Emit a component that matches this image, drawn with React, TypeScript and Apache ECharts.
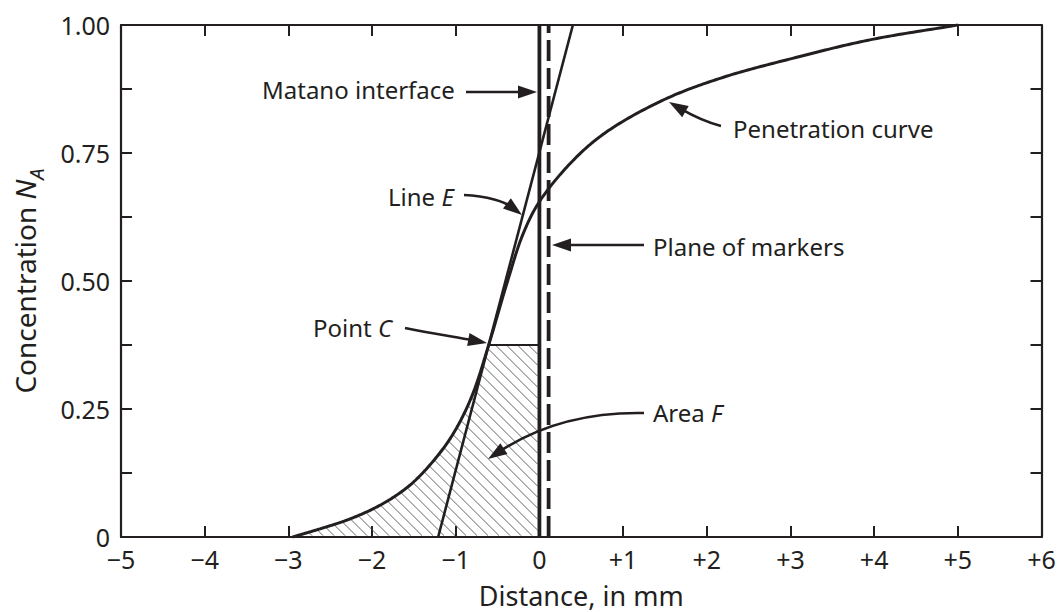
import React, { useEffect, useRef } from "react";
import * as echarts from "echarts";

// ---- data ----
const xMin = -5;
const xMax = 6;
const yMin = 0;
const yMax = 1;
const penetrationX = [-2.95, -2.62, -2.3, -2.0, -1.75, -1.5, -1.2, -1.0, -0.8, -0.606, -0.38, -0.2, 0, 0.4, 0.8, 1.5, 2.2, 3.1, 3.95, 5.0];
const penetrationY = [0, 0.016, 0.033, 0.054, 0.077, 0.108, 0.162, 0.21, 0.278, 0.375, 0.5, 0.59, 0.655, 0.735, 0.791, 0.855, 0.898, 0.938, 0.971, 1.0];
const lineEX = [-1.21, 0.4];
const lineEY = [0, 1];
const matanoX = 0;
const markersX = 0.11;
const pointCX = -0.606;
const pointCY = 0.375;
const yLabelValues = [0, 0.25, 0.5, 0.75, 1];
const yLabelTexts = ["0", "0.25", "0.50", "0.75", "1.00"];

const INK = "#231f20";
const FONT = '"Noto Sans", "Open Sans", sans-serif';
const ANN = 24;

function xLabel(v: number): string {
  if (Math.abs(v) < 1e-9) return "0";
  return v < 0 ? "\u2212" + Math.abs(v) : "+" + v;
}
function yLabel(v: number): string {
  for (let i = 0; i < yLabelValues.length; i++) {
    if (Math.abs(v - yLabelValues[i]) < 1e-6) return yLabelTexts[i];
  }
  return "";
}

// centripetal Catmull-Rom through pixel points, sampled into a dense polyline
function smoothPolyline(P: number[][], perSeg = 24): number[][] {
  const n = P.length;
  const get = (i: number) => {
    if (i < 0) return [2 * P[0][0] - P[1][0], 2 * P[0][1] - P[1][1]];
    if (i >= n) return [2 * P[n - 1][0] - P[n - 2][0], 2 * P[n - 1][1] - P[n - 2][1]];
    return P[i];
  };
  const out: number[][] = [P[0]];
  for (let i = 0; i < n - 1; i++) {
    const p0 = get(i - 1), p1 = get(i), p2 = get(i + 1), p3 = get(i + 2);
    const d1 = Math.pow(Math.hypot(p1[0] - p0[0], p1[1] - p0[1]), 0.5) || 1e-6;
    const d2 = Math.pow(Math.hypot(p2[0] - p1[0], p2[1] - p1[1]), 0.5) || 1e-6;
    const d3 = Math.pow(Math.hypot(p3[0] - p2[0], p3[1] - p2[1]), 0.5) || 1e-6;
    const b1 = [0, 1].map(
      (k) => (d1 * d1 * p2[k] - d2 * d2 * p0[k] + (2 * d1 * d1 + 3 * d1 * d2 + d2 * d2) * p1[k]) / (3 * d1 * (d1 + d2))
    );
    const b2 = [0, 1].map(
      (k) => (d3 * d3 * p1[k] - d2 * d2 * p3[k] + (2 * d3 * d3 + 3 * d3 * d2 + d2 * d2) * p2[k]) / (3 * d3 * (d3 + d2))
    );
    for (let s = 1; s <= perSeg; s++) {
      const t = s / perSeg;
      const u = 1 - t;
      out.push([0, 1].map((k) => u * u * u * p1[k] + 3 * u * u * t * b1[k] + 3 * u * t * t * b2[k] + t * t * t * p2[k]));
    }
  }
  return out;
}

function arrow(p0: number[], c1: number[], c2: number[], p1: number[], w = 2.6): any[] {
  const dx = p1[0] - c2[0];
  const dy = p1[1] - c2[1];
  const L = Math.hypot(dx, dy) || 1;
  const ux = dx / L;
  const uy = dy / L;
  const hl = 19;
  const hw = 6.5;
  const base = [p1[0] - ux * hl, p1[1] - uy * hl];
  const end = [p1[0] - ux * hl * 0.75, p1[1] - uy * hl * 0.75];
  return [
    {
      type: "bezierCurve",
      shape: { x1: p0[0], y1: p0[1], cpx1: c1[0], cpy1: c1[1], cpx2: c2[0], cpy2: c2[1], x2: end[0], y2: end[1] },
      style: { stroke: INK, lineWidth: w, fill: "none" },
      z: 100,
    },
    {
      type: "polygon",
      shape: {
        points: [
          [p1[0], p1[1]],
          [base[0] - uy * hw, base[1] + ux * hw],
          [base[0] + uy * hw, base[1] - ux * hw],
        ],
      },
      style: { fill: INK, stroke: "none" },
      z: 100,
    },
  ];
}

function label(x: number, y: number, text: string, rich?: any): any {
  return {
    type: "text",
    z: 100,
    style: {
      x,
      y,
      text,
      font: `${ANN}px ${FONT}`,
      fill: INK,
      textVerticalAlign: "middle",
      textAlign: "left",
      rich,
    },
  };
}

export default function App() {
  const ref = useRef<HTMLDivElement>(null);
  useEffect(() => {
    if (!ref.current) return;
    const chart = echarts.init(ref.current, null, { renderer: "svg" });
    const curve = penetrationX.map((x, i) => [x, penetrationY[i]]);

    const richItalic = {
      n: { fontSize: ANN, fontFamily: FONT, color: INK },
      i: { fontSize: ANN, fontFamily: FONT, color: INK, fontStyle: "italic" },
    };

    const axisBase = {
      axisLine: { show: true, onZero: false, lineStyle: { color: INK, width: 2.2 } },
      axisTick: { show: true, inside: true, length: 11, lineStyle: { color: INK, width: 2 } },
      splitLine: { show: false },
    };

    const option: any = {
      animation: false,
      backgroundColor: "#ffffff",
      grid: { left: 121, right: 21.5, top: 25, bottom: 75, containLabel: false, outerBoundsMode: "none" },
      xAxis: [
        {
          type: "value",
          min: xMin,
          max: xMax,
          interval: 1,
          position: "bottom",
          name: "Distance, in mm",
          nameLocation: "middle",
          nameGap: 46,
          nameTextStyle: { fontSize: 27, lineHeight: 24, fontFamily: FONT, color: INK },
          ...axisBase,
          axisLabel: { fontSize: 25, lineHeight: 20, fontFamily: FONT, color: INK, margin: 12, formatter: xLabel },
        },
        {
          type: "value",
          min: xMin,
          max: xMax,
          interval: 1,
          position: "top",
          ...axisBase,
          axisLabel: { show: false },
        },
      ],
      yAxis: [
        {
          type: "value",
          min: yMin,
          max: yMax,
          interval: 0.125,
          position: "left",
          name: "{a|Concentration }{b|N}{c|A}",
          nameLocation: "middle",
          nameGap: 82,
          nameTextStyle: {
            rich: {
              a: { fontSize: 28, fontFamily: FONT, color: INK, lineHeight: 32, verticalAlign: "bottom" },
              b: { fontSize: 28, fontFamily: FONT, color: INK, fontStyle: "italic", lineHeight: 32, verticalAlign: "bottom" },
              c: { fontSize: 20, fontFamily: FONT, color: INK, fontStyle: "italic", lineHeight: 32, verticalAlign: "bottom", padding: [0, 0, -7, 0] },
            },
          },
          ...axisBase,
          axisLabel: { fontSize: 25, lineHeight: 20, fontFamily: FONT, color: INK, margin: 11, formatter: yLabel },
        },
        {
          type: "value",
          min: yMin,
          max: yMax,
          interval: 0.125,
          position: "right",
          ...axisBase,
          axisLabel: { show: false },
        },
      ],
      series: [
        {
          type: "custom",
          name: "Penetration curve",
          coordinateSystem: "cartesian2d",
          data: [[penetrationX[0], penetrationY[0]]],
          z: 5,
          silent: true,
          renderItem: (params: any, api: any) => {
            const pix = curve.map((p) => api.coord(p));
            const dense = smoothPolyline(pix);
            const b0 = api.coord([matanoX, 0]);
            const top = api.coord([matanoX, pointCY]);
            const x0 = b0[0];
            const yb = b0[1];
            const yt = top[1];
            const startX = dense[0][0];
            const curveYAt = (px: number) => {
              if (px <= dense[0][0]) return yb;
              for (let i = 1; i < dense.length; i++) {
                if (px <= dense[i][0]) {
                  const t = (px - dense[i - 1][0]) / (dense[i][0] - dense[i - 1][0] || 1e-9);
                  return dense[i - 1][1] + t * (dense[i][1] - dense[i - 1][1]);
                }
              }
              return yt;
            };
            const inside = (px: number, py: number) =>
              px >= startX && px <= x0 - 1.5 && py <= yb - 1 && py >= yt && py >= curveYAt(px);
            const children: any[] = [];
            const spacing = 11;
            const push = (a: number[], b: number[]) =>
              children.push({ type: "line", shape: { x1: a[0], y1: a[1], x2: b[0], y2: b[1] }, style: { stroke: "#555555", lineWidth: 0.9 } });
            for (let c = yt - x0; c <= yb - startX; c += spacing) {
              let segStart: number[] | null = null;
              let last: number[] | null = null;
              for (let px = startX; px <= x0; px += 0.5) {
                const py = px + c;
                if (inside(px, py)) {
                  if (!segStart) segStart = [px, py];
                  last = [px, py];
                } else if (segStart && last) {
                  push(segStart, last);
                  segStart = null;
                  last = null;
                }
              }
              if (segStart && last) push(segStart, last);
            }
            children.push({
              type: "polyline",
              shape: { points: dense },
              style: { stroke: INK, lineWidth: 3, fill: "none", lineJoin: "round" },
            });
            return { type: "group", children };
          },
        },
        {
          type: "line",
          name: "Line E",
          data: lineEX.map((x, i) => [x, lineEY[i]]),
          symbol: "none",
          z: 5,
          lineStyle: { color: INK, width: 2.6 },
        },
        {
          type: "line",
          name: "Point C level",
          data: [
            [pointCX, pointCY],
            [matanoX, pointCY],
          ],
          symbol: "none",
          z: 5,
          lineStyle: { color: INK, width: 2.2 },
        },
        {
          type: "line",
          name: "Matano interface",
          data: [
            [matanoX, yMin],
            [matanoX, yMax],
          ],
          symbol: "none",
          z: 6,
          lineStyle: { color: INK, width: 3.8 },
        },
        {
          type: "line",
          name: "Plane of markers",
          data: [
            [markersX, yMin],
            [markersX, yMax],
          ],
          symbol: "none",
          z: 6,
          lineStyle: { color: INK, width: 3.8, type: [21, 7] },
        },
      ],
      graphic: {
        elements: [
          label(262, 89, "Matano interface"),
          ...arrow([466, 92], [490, 92], [515, 92], [537, 92]),
          label(388, 196, "{n|Line }{i|E}", richItalic),
          ...arrow([464, 195], [488, 196], [505, 202], [522, 215]),
          label(653, 246, "Plane of markers"),
          ...arrow([644, 245], [620, 245], [580, 245], [552, 245]),
          label(313, 327, "{n|Point }{i|C}", richItalic),
          ...arrow([405, 328], [430, 333], [455, 337], [487, 343]),
          label(653, 412, "{n|Area }{i|F}", richItalic),
          ...arrow([644, 413], [590, 412], [540, 425], [488, 459]),
          label(733, 128, "Penetration curve"),
          ...arrow([721, 126], [702, 121], [688, 113], [669, 102]),
        ],
      },
    };
    chart.setOption(option);
    return () => chart.dispose();
  }, []);
  return (
    <div
      ref={ref}
      style={{ position: "fixed", left: 0, top: 0, width: 1063, height: 612, background: "#fff" }}
    />
  );
}
